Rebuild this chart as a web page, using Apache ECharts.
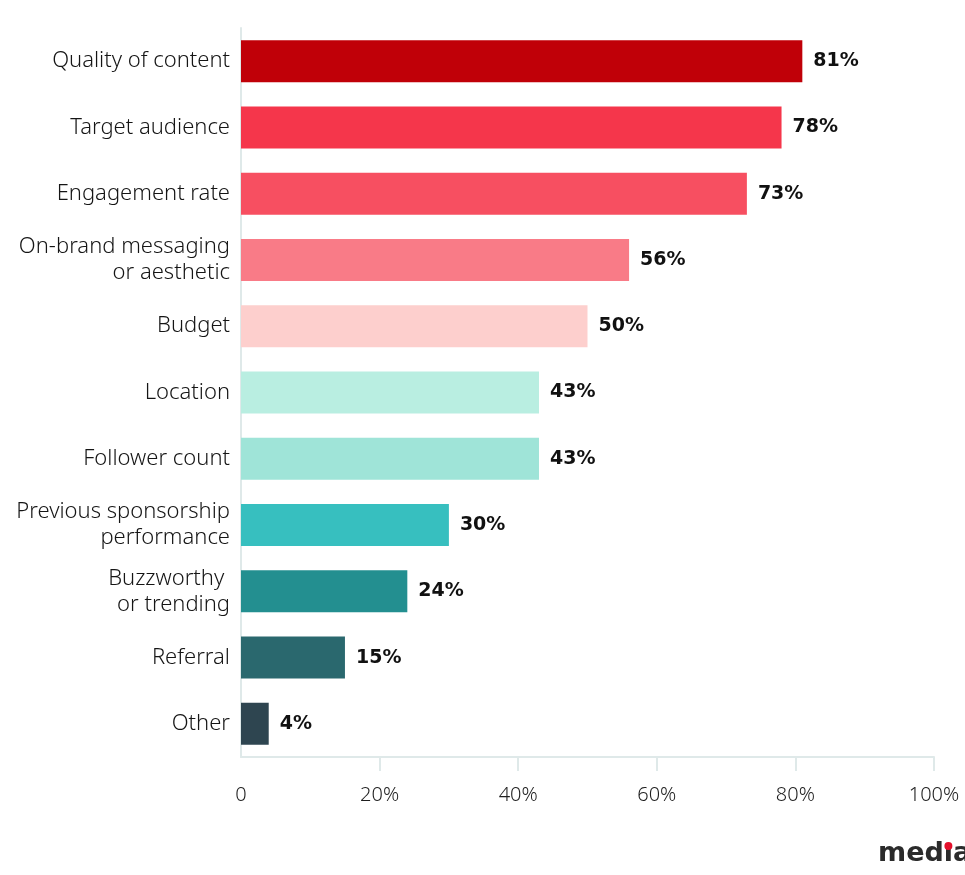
<!DOCTYPE html>
<html>
<head>
<meta charset="utf-8">
<style>
  html, body { margin: 0; padding: 0; background: #ffffff; }
  #chart { width: 965px; height: 875px; }
</style>
<script src="https://cdn.jsdelivr.net/npm/echarts@6/dist/echarts.min.js"></script>
</head>
<body>
<div id="chart"></div>
<script>
// Factors considered when choosing an influencer (share of respondents, %)
const categories = [
  'Quality of content',
  'Target audience',
  'Engagement rate',
  'On-brand messaging\nor aesthetic',
  'Budget',
  'Location',
  'Follower count',
  'Previous sponsorship\nperformance',
  'Buzzworthy \nor trending',
  'Referral',
  'Other'
];
const values = [81, 78, 73, 56, 50, 43, 43, 30, 24, 15, 4];
const barColors = [
  '#c00008', '#f5364b', '#f74f61', '#f97b87', '#fdcfcd',
  '#b9eee1', '#9fe4d8', '#37bfbf', '#238f90', '#2a686e', '#2e4550'
];
const xTicks = [0, 20, 40, 60, 80, 100];

// Brand mark in the lower right corner; the red dot sits over the dotless "ı"
const logoFont = 'bold 27px "DejaVu Sans"';
const logoLeft = 878;
const measure = document.createElement('canvas').getContext('2d');
measure.font = logoFont;
const dotX = logoLeft + measure.measureText('med').width + measure.measureText('ı').width / 2;

const chart = echarts.init(document.getElementById('chart'));

chart.setOption({
  animation: false,
  backgroundColor: '#ffffff',
  grid: { left: 241, right: 31, top: 28, bottom: 118, containLabel: false },
  xAxis: {
    type: 'value',
    min: xTicks[0],
    max: xTicks[xTicks.length - 1],
    interval: 20,
    axisLine: { show: true, lineStyle: { color: '#dfe9e9', width: 2 } },
    axisTick: {
      show: true,
      length: 14,
      customValues: xTicks.slice(1),
      lineStyle: { color: '#dfe9e9', width: 2 }
    },
    splitLine: { show: false },
    axisLabel: {
      margin: 28,
      verticalAlign: 'top',
      color: '#1e1e1e',
      fontFamily: 'Noto Sans',
      fontWeight: 300,
      fontSize: 20,
      formatter: v => (v === 0 ? '0' : v + '%')
    }
  },
  yAxis: {
    type: 'category',
    inverse: true,
    data: categories,
    axisLine: { show: true, lineStyle: { color: '#dfe9e9', width: 2 } },
    axisTick: { show: false },
    axisLabel: {
      margin: 11,
      color: '#151515',
      fontFamily: 'Noto Sans',
      fontWeight: 300,
      fontSize: 22,
      lineHeight: 26,
      align: 'right'
    }
  },
  series: [{
    type: 'bar',
    barWidth: 42,
    data: values.map((v, i) => ({ value: v, itemStyle: { color: barColors[i] } })),
    label: {
      show: true,
      position: 'right',
      distance: 11,
      formatter: '{c}%',
      color: '#111111',
      fontFamily: 'DejaVu Sans',
      fontWeight: 'bold',
      fontSize: 19
    }
  }],
  graphic: [
    {
      type: 'text',
      left: logoLeft,
      top: 840,
      style: {
        text: 'medıakix',
        fill: '#2b2b2b',
        font: logoFont
      }
    },
    {
      type: 'circle',
      shape: { cx: dotX, cy: 846, r: 4 },
      style: { fill: '#e3102b' }
    }
  ]
});
</script>
</body>
</html>
